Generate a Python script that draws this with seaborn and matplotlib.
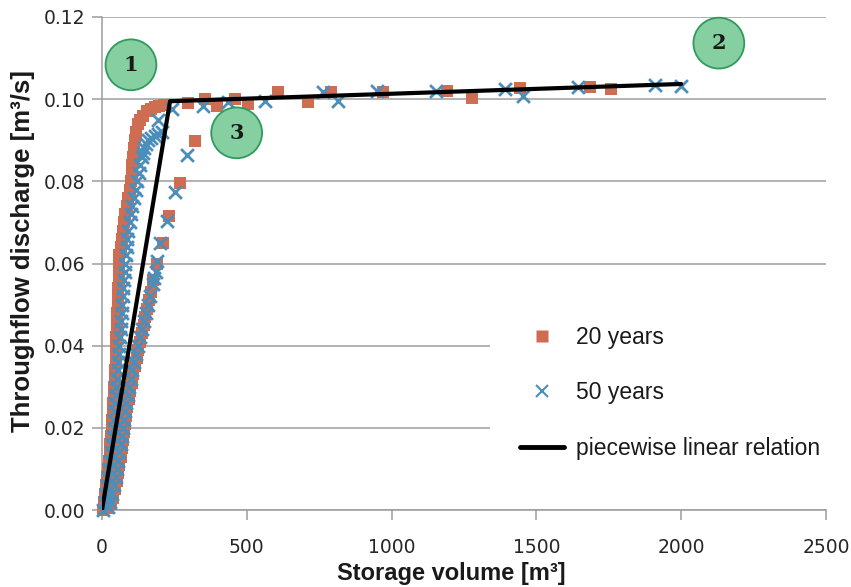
import matplotlib
matplotlib.use("Agg")
import matplotlib.pyplot as plt
from matplotlib.lines import Line2D
import pandas as pd
import seaborn as sns

# ---------------- data ----------------
# 20 years series (storage volume m3, discharge m3/s)
vol_20_rise = [2, 6, 10, 14, 18, 21, 24, 27, 29, 32, 34, 36, 38, 39, 41, 42, 44, 45, 47, 48,
               49, 50, 51, 52, 53, 54, 55, 56, 57, 58, 57, 60, 64, 68, 72, 76, 81, 86, 91, 96,
               100, 102, 105, 108, 111, 114, 118, 124, 130, 142, 155, 168, 182, 198, 215]
q_20_rise = [0.000, 0.002, 0.004, 0.006, 0.008, 0.010, 0.012, 0.014, 0.016, 0.018, 0.020,
             0.022, 0.024, 0.026, 0.028, 0.030, 0.032, 0.034, 0.036, 0.038, 0.040, 0.042,
             0.044, 0.046, 0.048, 0.050, 0.052, 0.054, 0.056, 0.058, 0.060, 0.062, 0.064,
             0.066, 0.068, 0.070, 0.072, 0.074, 0.076, 0.078, 0.080, 0.082, 0.084, 0.086,
             0.088, 0.090, 0.092, 0.094, 0.095, 0.096, 0.097, 0.0975, 0.098, 0.0983, 0.0986]
vol_20_plateau = [297, 355, 397, 459, 503, 607, 712, 790, 972, 1193, 1279, 1445, 1686, 1759]
q_20_plateau = [0.0991, 0.1000, 0.0983, 0.1000, 0.0988, 0.1017, 0.0994, 0.1017, 0.1017,
                0.1020, 0.1003, 0.1027, 0.1030, 0.1025]
vol_20_fall = [320, 269, 231, 210, 190, 176, 168, 162, 156, 150, 144, 138, 132, 126, 120, 114,
               108, 102, 97, 92, 88, 84, 80, 76, 72, 68, 64, 60, 56, 51, 45, 38, 30, 22]
q_20_fall = [0.0898, 0.0795, 0.0715, 0.065, 0.060, 0.056, 0.053, 0.051, 0.049, 0.047, 0.045,
             0.043, 0.041, 0.039, 0.037, 0.035, 0.033, 0.031, 0.029, 0.027, 0.025, 0.023,
             0.021, 0.019, 0.017, 0.015, 0.013, 0.011, 0.009, 0.007, 0.005, 0.003, 0.0015, 0.0005]

# 50 years series
vol_50_rise = [4, 9, 13, 17, 21, 25, 28, 31, 34, 37, 40, 42, 44, 46, 48, 50, 52, 54, 56, 58,
               60, 62, 64, 66, 68, 70, 72, 74, 76, 78, 80, 82, 85, 88, 91, 95, 100, 105, 110,
               116, 122, 127, 132, 137, 141, 146, 152, 160, 170, 182, 195, 208]
q_50_rise = [0.000, 0.002, 0.004, 0.006, 0.008, 0.010, 0.012, 0.014, 0.016, 0.018, 0.020,
             0.022, 0.024, 0.026, 0.028, 0.030, 0.032, 0.034, 0.036, 0.038, 0.040, 0.042,
             0.044, 0.046, 0.048, 0.050, 0.052, 0.054, 0.056, 0.058, 0.060, 0.062, 0.064,
             0.066, 0.068, 0.070, 0.072, 0.074, 0.076, 0.078, 0.080, 0.082, 0.084, 0.086,
             0.087, 0.088, 0.089, 0.090, 0.0905, 0.091, 0.0915, 0.092]
vol_50_plateau = [195, 240, 348, 434, 562, 762, 814, 948, 1155, 1390, 1455, 1645, 1910, 2000]
q_50_plateau = [0.0950, 0.0975, 0.0983, 0.0993, 0.0996, 0.1017, 0.0996, 0.1020, 0.1020,
                0.1025, 0.1008, 0.1030, 0.1035, 0.1032]
vol_50_fall = [292, 252, 224, 200, 190, 178, 185, 176, 166, 158, 151, 144, 137, 130, 123, 117,
               111, 105, 99, 94, 89, 84, 80, 76, 72, 68, 64, 60, 56, 52, 47, 42, 36, 29, 21]
q_50_fall = [0.0864, 0.0773, 0.0703, 0.065, 0.0605, 0.0565, 0.058, 0.055, 0.052, 0.050, 0.048,
             0.046, 0.044, 0.042, 0.040, 0.038, 0.036, 0.034, 0.032, 0.030, 0.028, 0.026,
             0.024, 0.022, 0.020, 0.018, 0.016, 0.014, 0.012, 0.010, 0.008, 0.006, 0.004,
             0.002, 0.0007]

# piecewise linear relation
line_vol = [0, 235, 2000]
line_q = [0.0, 0.0995, 0.1037]

x_ticks = [0, 500, 1000, 1500, 2000, 2500]
y_ticks = [0.00, 0.02, 0.04, 0.06, 0.08, 0.10, 0.12]
legend_labels = ["20 years", "50 years", "piecewise linear relation"]
circle_labels = ["1", "2", "3"]

# ---------------- style ----------------
C20 = "#CF6D53"
C50 = "#4A8EBB"
GRID = "#9c9c9c"

sns.set_style("white")
plt.rcParams["font.family"] = ["DejaVu Sans"]

fig, ax = plt.subplots(figsize=(8.51, 5.87), dpi=100)
fig.subplots_adjust(left=102 / 851, right=826 / 851, bottom=1 - 510 / 587, top=1 - 17 / 587)

df20 = pd.DataFrame({"vol": vol_20_rise + vol_20_plateau + vol_20_fall,
                     "q": q_20_rise + q_20_plateau + q_20_fall})
df50 = pd.DataFrame({"vol": vol_50_rise + vol_50_plateau + vol_50_fall,
                     "q": q_50_rise + q_50_plateau + q_50_fall})

sns.scatterplot(data=df20, x="vol", y="q", marker="s", s=68, color=C20, linewidth=0,
                ax=ax, clip_on=False, zorder=3, legend=False)
sns.scatterplot(data=df50, x="vol", y="q", marker="x", s=85, color=C50, linewidth=2.0,
                ax=ax, clip_on=False, zorder=4, legend=False)
sns.lineplot(x=line_vol, y=line_q, color="black", lw=3, ax=ax, zorder=5, legend=False)

ax.set_xlim(0, 2500)
ax.set_ylim(0, 0.12)
ax.set_xticks(x_ticks)
ax.set_xticklabels([str(t) for t in x_ticks])
ax.set_yticks(y_ticks)
ax.set_yticklabels([f"{t:.2f}" for t in y_ticks])

ax.set_axisbelow(True)
ax.yaxis.grid(True, color=GRID, lw=1.1)
ax.xaxis.grid(False)
for s in ["top", "right"]:
    ax.spines[s].set_visible(False)
for s in ["left", "bottom"]:
    ax.spines[s].set_color(GRID)
    ax.spines[s].set_linewidth(1.1)

ax.tick_params(axis="both", direction="out", length=7, width=1.1, color=GRID,
               labelsize=13.5, labelcolor="#262626")
ax.tick_params(axis="x", pad=13)
ax.tick_params(axis="y", pad=5)
ax.tick_params(axis="y", left=True)
ax.tick_params(axis="x", bottom=True)

ax.set_xlabel("Storage volume [m³]", family=["Liberation Sans", "DejaVu Sans"],
              weight="bold", size=17, color="#1a1a1a")
ax.set_ylabel("Throughflow discharge [m³/s]", family=["Liberation Sans", "DejaVu Sans"],
              weight="bold", size=18.5, color="#1a1a1a")
ax.xaxis.set_label_coords(0.483, -0.105)
ax.yaxis.set_label_coords(-0.092, 0.525)

handles = [Line2D([], [], marker="s", ls="none", color=C20, markersize=9, mec="none"),
           Line2D([], [], marker="x", ls="none", color=C50, markersize=9, mew=1.5),
           Line2D([], [], color="black", lw=3.5)]
leg = ax.legend(handles, legend_labels, loc="upper left",
                bbox_to_anchor=(490 / 851, 1 - 296 / 587), bbox_transform=fig.transFigure,
                frameon=True, fancybox=False, edgecolor="none", facecolor="white", framealpha=1,
                prop=dict(family=["Liberation Sans", "DejaVu Sans"], size=16.5),
                labelspacing=1.42, handlelength=1.95, handletextpad=0.5, borderpad=1.3,
                borderaxespad=0)
leg.set_zorder(10)
for t in leg.get_texts():
    t.set_color("#1a1a1a")

circle_pos = [(0.040, 0.903), (0.852, 0.947), (0.186, 0.765)]
for txt, (fx, fy) in zip(circle_labels, circle_pos):
    ax.text(fx, fy, txt, transform=ax.transAxes, ha="center", va="center",
            fontsize=15, fontweight="bold", family=["DejaVu Serif"], color="#1a1a1a",
            bbox=dict(boxstyle="circle,pad=0.74", fc="#86CFA0", ec="#2F9A5E", lw=1.3),
            zorder=6)

fig.savefig("out.png", dpi=100)
